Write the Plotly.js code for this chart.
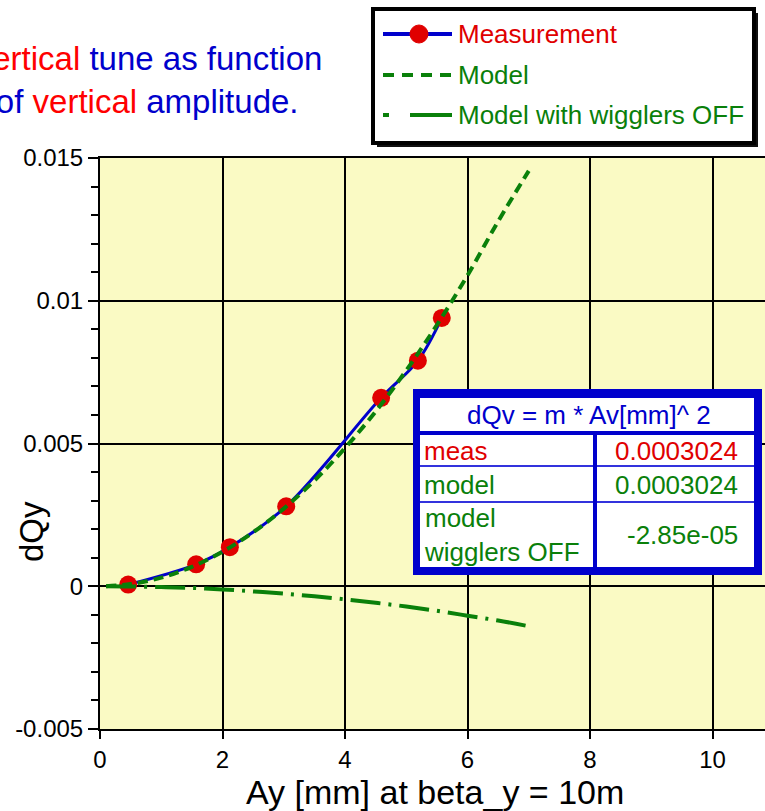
<!DOCTYPE html>
<html>
<head>
<meta charset="utf-8">
<script src="https://cdn.plot.ly/plotly-3.0.1.min.js"></script>
<style>
html,body{margin:0;padding:0;width:765px;height:811px;overflow:hidden;background:#fff;}
#chart{width:835px;height:811px;}
</style>
</head>
<body>
<div id="chart"></div>
<script>
// ---- data ----
const xMeas = [0.46, 1.57, 2.12, 3.04, 4.59, 5.19, 5.58];
const yMeas = [0.00006, 0.00077, 0.00137, 0.0028, 0.0066, 0.0079, 0.0094];

const xModel = [0.1, 0.5, 1, 1.5, 2, 2.5, 3, 3.5, 4, 4.5, 5, 5.5, 6, 6.5, 7];
const yModel = [0.000003, 0.000076, 0.0003, 0.00068, 0.00121, 0.00189, 0.00272, 0.0037, 0.00484, 0.00612, 0.00756, 0.00915, 0.01089, 0.01278, 0.01455];
const yModelOff = [0, -0.000007, -0.00003, -0.00006, -0.00011, -0.00018, -0.00026, -0.00035, -0.00046, -0.00058, -0.00071, -0.00086, -0.00103, -0.0012, -0.0014];

const yTickVals = [-0.005, 0, 0.005, 0.01, 0.015];
const yTickText = ['-0.005', '0', '0.005', '0.01', '0.015'];
const xTickVals = [0, 2, 4, 6, 8, 10, 12];
const xTickText = ['0', '2', '4', '6', '8', '10', '12'];

const seriesNames = ['Measurement', 'Model', 'Model with wigglers OFF'];
const tableHeader = 'dQv = m * Av[mm]^ 2';
const tableLabels = ['meas', 'model', 'model<br>wigglers OFF'];
const tableValues = ['0.0003024', '0.0003024', '-2.85e-05'];

// ---- styles ----
const RED = '#E00000';
const BLUE = '#0000CC';
const GREEN = '#0A800A';
const FONT = 'Liberation Sans, Arial, sans-serif';

// pixel -> paper helpers (plot area: x 100..835, y 158..729)
const L = 100, R = 835, T = 158, B = 729;
const px = v => (v - L) / (R - L);
const py = v => (B - v) / (B - T);

const traces = [
  {x: xMeas, y: yMeas, mode: 'lines+markers', name: seriesNames[0],
   line: {color: BLUE, width: 3, shape: 'spline'},
   marker: {color: RED, size: 18}, showlegend: false},
  {x: xModel, y: yModel, mode: 'lines', name: seriesNames[1],
   line: {color: GREEN, width: 4, dash: '10px,6px', shape: 'spline'}, showlegend: false},
  {x: xModel, y: yModelOff, mode: 'lines', name: seriesNames[2],
   line: {color: GREEN, width: 4, dash: '30px,8px,3px,8px', shape: 'spline'}, showlegend: false}
];

const shapes = [];
const annotations = [];

// legend box
shapes.push({type:'rect', xref:'paper', yref:'paper', x0:px(377), x1:px(758), y0:py(13), y1:py(147), fillcolor:'#111', line:{width:0}});
shapes.push({type:'rect', xref:'paper', yref:'paper', x0:px(373), x1:px(754), y0:py(9), y1:py(143), fillcolor:'#fff', line:{color:'#000', width:4}});
// legend samples
const legY = [34, 75, 115];
shapes.push({type:'line', xref:'paper', yref:'paper', x0:px(383), x1:px(452), y0:py(legY[0]), y1:py(legY[0]), line:{color:BLUE, width:4}});
shapes.push({type:'circle', xref:'paper', yref:'paper', x0:px(410), x1:px(428), y0:py(legY[0]-9), y1:py(legY[0]+9), fillcolor:RED, line:{color:RED, width:1}});
shapes.push({type:'line', xref:'paper', yref:'paper', x0:px(383), x1:px(452), y0:py(legY[1]), y1:py(legY[1]), line:{color:GREEN, width:4, dash:'11px,8px'}});
shapes.push({type:'line', xref:'paper', yref:'paper', x0:px(383), x1:px(389), y0:py(legY[2]), y1:py(legY[2]), line:{color:GREEN, width:4}});
shapes.push({type:'line', xref:'paper', yref:'paper', x0:px(410), x1:px(452), y0:py(legY[2]), y1:py(legY[2]), line:{color:GREEN, width:4}});
const legColors = [RED, GREEN, GREEN];
seriesNames.forEach((n, i) => {
  annotations.push({xref:'paper', yref:'paper', x:px(456), y:py(legY[i]), xanchor:'left', yanchor:'middle',
    text:n, showarrow:false, font:{family:FONT, size:26, color:legColors[i]}});
});

// table
shapes.push({type:'rect', xref:'paper', yref:'paper', x0:px(413), x1:px(762), y0:py(389), y1:py(575), fillcolor:'#0000CC', line:{width:0}});
shapes.push({type:'rect', xref:'paper', yref:'paper', x0:px(420), x1:px(754), y0:py(398), y1:py(431), fillcolor:'#fff', line:{width:0}});
shapes.push({type:'rect', xref:'paper', yref:'paper', x0:px(420), x1:px(593), y0:py(435), y1:py(567), fillcolor:'#fff', line:{width:0}});
shapes.push({type:'rect', xref:'paper', yref:'paper', x0:px(597), x1:px(754), y0:py(435), y1:py(567), fillcolor:'#fff', line:{width:0}});
[466, 502].forEach(yy => {
  shapes.push({type:'line', xref:'paper', yref:'paper', x0:px(420), x1:px(593), y0:py(yy), y1:py(yy), line:{color:'#3333DD', width:2}});
  shapes.push({type:'line', xref:'paper', yref:'paper', x0:px(597), x1:px(754), y0:py(yy), y1:py(yy), line:{color:'#3333DD', width:2}});
});
annotations.push({xref:'paper', yref:'paper', x:px(589), y:py(415), xanchor:'center', yanchor:'middle',
  text:tableHeader, showarrow:false, font:{family:FONT, size:26, color:BLUE}});
const rowY = [451, 485, 535];
const rowColors = [RED, GREEN, GREEN];
tableLabels.forEach((t, i) => {
  annotations.push({xref:'paper', yref:'paper', x:px(422), y:py(rowY[i]), xanchor:'left', yanchor:'middle', align:'left',
    text:t, showarrow:false, font:{family:FONT, size:26, color:rowColors[i]}});
  annotations.push({xref:'paper', yref:'paper', x:px(740), y:py(rowY[i]), xanchor:'right', yanchor:'middle',
    text:tableValues[i], showarrow:false, font:{family:FONT, size:26, color:rowColors[i]}});
});

// title
annotations.push({xref:'paper', yref:'paper', x:px(147), y:py(80), xanchor:'center', yanchor:'middle', align:'center',
  text:'<span style="color:#FF0000">Vertical</span> tune as function<br>of <span style="color:#FF0000">vertical</span> amplitude.',
  showarrow:false, font:{family:FONT, size:33, color:BLUE}});
// axis titles
annotations.push({xref:'paper', yref:'paper', x:px(435), y:py(792), xanchor:'center', yanchor:'middle',
  text:'Ay [mm] at beta_y = 10m', showarrow:false, font:{family:FONT, size:34, color:'#000'}});
annotations.push({xref:'paper', yref:'paper', x:px(31), y:py(532), xanchor:'center', yanchor:'middle', textangle:-90,
  text:'dQy', showarrow:false, font:{family:FONT, size:33, color:'#000'}});

const layout = {
  width: 835, height: 811,
  margin: {l: L, r: 0, t: T, b: 811 - B, pad: 0},
  paper_bgcolor: '#fff', plot_bgcolor: '#FAFAC4',
  showlegend: false,
  xaxis: {range: [0, 12], tickvals: xTickVals, ticktext: xTickText,
    showgrid: true, gridcolor: '#000', gridwidth: 2, zeroline: false,
    showline: true, linecolor: '#000', linewidth: 2, mirror: true,
    ticks: 'outside', ticklen: 8, tickwidth: 2, tickcolor: '#000',
    tickfont: {family: FONT, size: 24, color: '#000'}},
  yaxis: {range: [-0.005, 0.015], tickvals: yTickVals, ticktext: yTickText,
    showgrid: true, gridcolor: '#000', gridwidth: 2, zeroline: false,
    showline: true, linecolor: '#000', linewidth: 2, mirror: true,
    ticks: 'outside', ticklen: 10, tickwidth: 2, tickcolor: '#000',
    minor: {dtick: 0.001, ticks: 'outside', ticklen: 7, tickwidth: 2, tickcolor: '#000', showgrid: false},
    tickfont: {family: FONT, size: 24, color: '#000'}},
  shapes: shapes,
  annotations: annotations
};

Plotly.newPlot('chart', traces, layout, {displayModeBar: false, staticPlot: true});
</script>
</body>
</html>
